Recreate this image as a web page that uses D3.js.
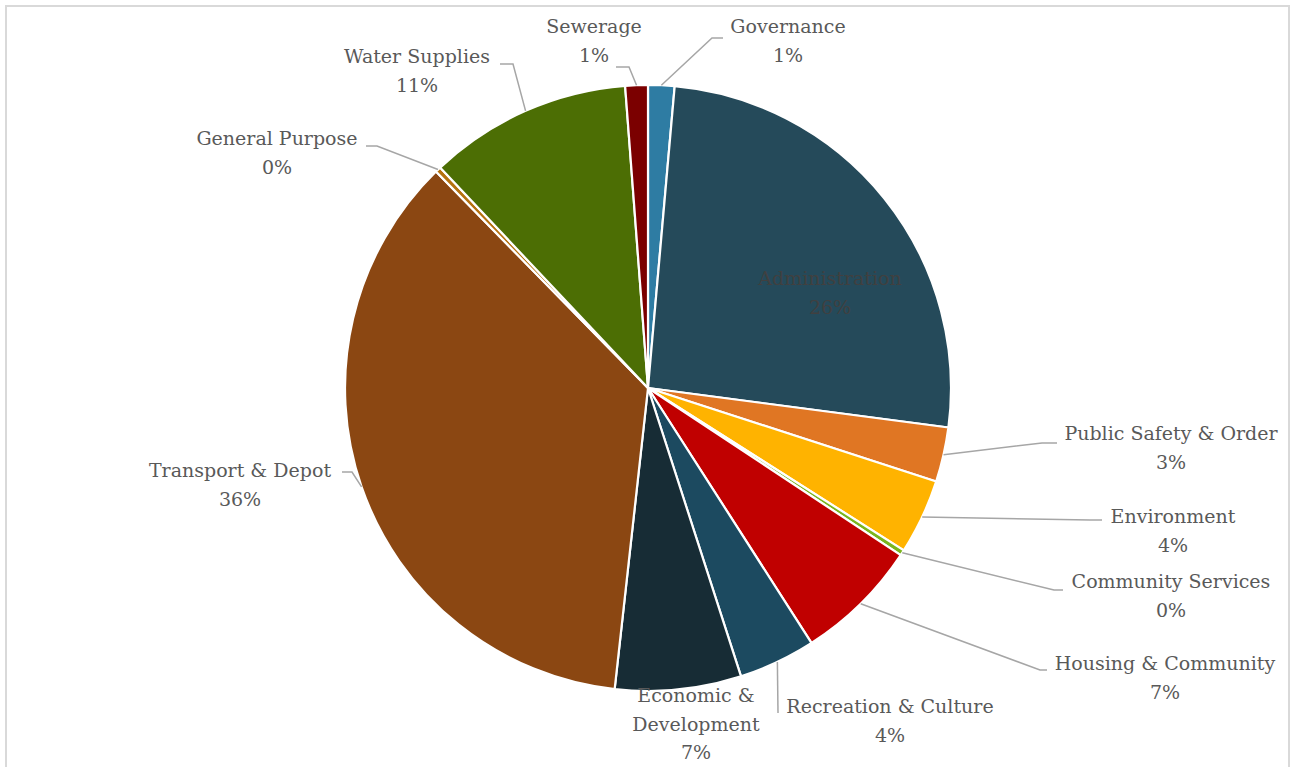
<!DOCTYPE html>
<html>
<head>
<meta charset="utf-8">
<script src="https://cdn.jsdelivr.net/npm/d3@7"></script>
<style>
  html, body { margin: 0; padding: 0; background: #ffffff; }
  svg { display: block; }
</style>
</head>
<body>
<svg id="chart" width="1291" height="767"></svg>
<script>
// Spending share by function (percent of total)
const categories = [
  "Governance", "Administration", "Public Safety & Order", "Environment",
  "Community Services", "Housing & Community", "Recreation & Culture",
  "Economic & Development", "Transport & Depot", "General Purpose",
  "Water Supplies", "Sewerage"
];
const shares = [1.4, 25.6, 2.9, 4.0, 0.3, 6.6, 4.1, 6.7, 35.8, 0.3, 10.8, 1.2];
const percentLabels = ["1%", "26%", "3%", "4%", "0%", "7%", "4%", "7%", "36%", "0%", "11%", "1%"];
const sliceColors = [
  "#2e7ca3", "#254a5a", "#e07623", "#ffb300", "#7ab51d", "#c00000",
  "#1c4a60", "#172c35", "#8b4712", "#b5710f", "#4c6e04", "#7b0000"
];

// Label placement: text centre x, first baseline y, and leader-line elbow
const labelLayout = {
  "Governance":             { x: 788,  y: 33,  lines: ["Governance"], leader: [[712, 38], [723, 38]] },
  "Administration":         { x: 830,  y: 285, lines: ["Administration"], inside: true },
  "Public Safety & Order":  { x: 1171, y: 440, lines: ["Public Safety & Order"], leader: [[1042, 443], [1057, 443]] },
  "Environment":            { x: 1173, y: 523, lines: ["Environment"], leader: [[1090, 520], [1102, 520]] },
  "Community Services":     { x: 1171, y: 588, lines: ["Community Services"], leader: [[1054, 590], [1063, 590]] },
  "Housing & Community":    { x: 1165, y: 670, lines: ["Housing & Community"], leader: [[1040, 670], [1047, 670]] },
  "Recreation & Culture":   { x: 890,  y: 713, lines: ["Recreation & Culture"], leader: [[778, 713]] },
  "Economic & Development": { x: 696,  y: 702, lines: ["Economic &", "Development"] },
  "Transport & Depot":      { x: 240,  y: 477, lines: ["Transport & Depot"], leader: [[352, 472], [342, 472]] },
  "General Purpose":        { x: 277,  y: 145, lines: ["General Purpose"], leader: [[377, 146], [366, 146]] },
  "Water Supplies":         { x: 417,  y: 63,  lines: ["Water Supplies"], leader: [[513, 64], [500, 64]] },
  "Sewerage":               { x: 594,  y: 33,  lines: ["Sewerage"], leader: [[629, 67], [616, 67]] }
};

const svg = d3.select("#chart");
const cx = 648, cy = 388, radius = 303;
const lineHeight = 28.5;

// Chart area frame (bottom edge runs below the visible area)
svg.append("rect")
  .attr("x", 6).attr("y", 6)
  .attr("width", 1283).attr("height", 800)
  .attr("fill", "none")
  .attr("stroke", "#d9d9d9")
  .attr("stroke-width", 2);

const pie = d3.pie().sort(null).value(d => d.value).startAngle(0).endAngle(2 * Math.PI);
const data = categories.map((c, i) => ({ name: c, value: shares[i], pct: percentLabels[i], color: sliceColors[i] }));
const arcs = pie(data);

const arc = d3.arc().innerRadius(0).outerRadius(radius);

const g = svg.append("g").attr("transform", `translate(${cx},${cy})`);

g.selectAll("path.slice")
  .data(arcs)
  .join("path")
  .attr("class", "slice")
  .attr("d", arc)
  .attr("fill", d => d.data.color)
  .attr("stroke", "#ffffff")
  .attr("stroke-width", 2.2)
  .attr("stroke-linejoin", "round");

// Leader lines from the slice rim at mid-angle to the label
const leaders = svg.append("g");
arcs.forEach(d => {
  const lay = labelLayout[d.data.name];
  if (!lay || !lay.leader) return;
  const mid = (d.startAngle + d.endAngle) / 2;
  const start = [cx + radius * Math.sin(mid), cy - radius * Math.cos(mid)];
  const pts = [start].concat(lay.leader);
  leaders.append("path")
    .attr("d", d3.line()(pts))
    .attr("fill", "none")
    .attr("stroke", "#a6a6a6")
    .attr("stroke-width", 1.5);
});

// Category and percent labels
const labels = svg.append("g")
  .attr("font-family", "'DejaVu Serif', 'Liberation Serif', serif")
  .attr("font-size", 19)
  .attr("text-anchor", "middle");

arcs.forEach(d => {
  const lay = labelLayout[d.data.name];
  const t = labels.append("text")
    .attr("x", lay.x)
    .attr("y", lay.y)
    .attr("fill", lay.inside ? "#404040" : "#595959");
  const allLines = lay.lines.concat([d.data.pct]);
  allLines.forEach((ln, i) => {
    t.append("tspan")
      .attr("x", lay.x)
      .attr("dy", i === 0 ? 0 : lineHeight)
      .text(ln);
  });
});
</script>
</body>
</html>
